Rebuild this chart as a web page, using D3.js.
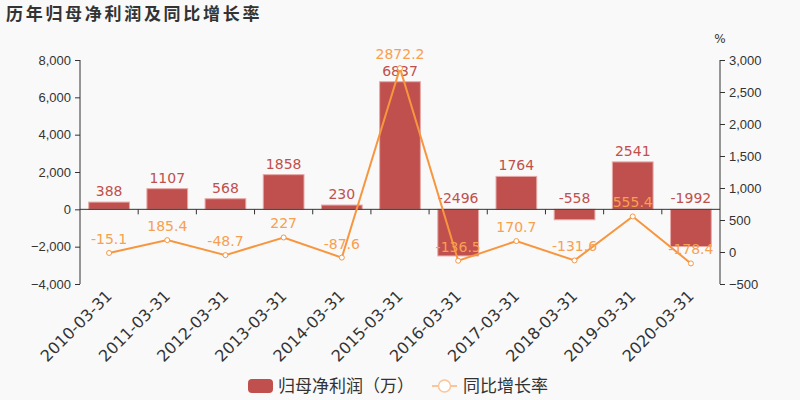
<!DOCTYPE html>
<html>
<head>
<meta charset="utf-8">
<script src="https://cdn.jsdelivr.net/npm/d3@7"></script>
<style>
body { margin: 0; background: #f9f9f9; }
svg { display: block; font-family: "DejaVu Sans", "Noto Sans CJK SC", sans-serif; }
</style>
</head>
<body>
<svg id="chart" width="800" height="400"></svg>
<script>
// data
var dates = ["2010-03-31","2011-03-31","2012-03-31","2013-03-31","2014-03-31","2015-03-31","2016-03-31","2017-03-31","2018-03-31","2019-03-31","2020-03-31"]
var profit = [388, 1107, 568, 1858, 230, 6837, -2496, 1764, -558, 2541, -1992]
var growth = [-15.1, 185.4, -48.7, 227, -87.6, 2872.2, -136.5, 170.7, -131.6, 555.4, -178.4]
var leftTicks = [-4000, -2000, 0, 2000, 4000, 6000, 8000]
var rightTicks = [-500, 0, 500, 1000, 1500, 2000, 2500, 3000]

var barColor = "#c0504d", lineColor = "#f7963f"
var gLeft = 80, gRight = 720, gTop = 60, gBottom = 284

var svg = d3.select("#chart")
svg.append("rect").attr("width", 800).attr("height", 400).attr("fill", "#f9f9f9")

svg.append("text").attr("x", 6).attr("y", 20)
  .attr("font-family", "Noto Sans CJK SC").attr("font-size", 17).attr("font-weight", "bold")
  .attr("fill", "#333").attr("letter-spacing", 2.7)
  .text("历年归母净利润及同比增长率")

var x = d3.scaleBand().domain(dates).range([gLeft, gRight]).paddingInner(0.3).paddingOuter(0.15)
var band = d3.scaleBand().domain(dates).range([gLeft, gRight])
var y = d3.scaleLinear().domain([-4000, 8000]).range([gBottom, gTop])
var y2 = d3.scaleLinear().domain([-500, 3000]).range([gBottom, gTop])
var fmt = d3.format(",")

// left axis
var ga = svg.append("g").attr("transform", "translate(" + gLeft + ",0)")
  .call(d3.axisLeft(y).tickValues(leftTicks).tickFormat(fmt).tickSize(5).tickPadding(4))
ga.select(".domain").attr("stroke", "#333").attr("d", "M0," + gTop + "V" + gBottom)
ga.selectAll("line").attr("stroke", "#333")
ga.selectAll("text").attr("fill", "#333").attr("font-size", 13)

// right axis
var gr = svg.append("g").attr("transform", "translate(" + gRight + ",0)")
  .call(d3.axisRight(y2).tickValues(rightTicks).tickFormat(fmt).tickSize(5).tickPadding(4))
gr.select(".domain").attr("stroke", "#333").attr("d", "M0," + gTop + "V" + gBottom)
gr.selectAll("line").attr("stroke", "#333")
gr.selectAll("text").attr("fill", "#333").attr("font-size", 13)
svg.append("text").attr("x", 720).attr("y", 43).attr("text-anchor", "middle")
  .attr("font-size", 12).attr("fill", "#333").text("%")

// bars
svg.append("g").selectAll("rect").data(profit).join("rect")
  .attr("x", function(d, i) { return x(dates[i]) })
  .attr("width", x.bandwidth())
  .attr("y", function(d) { return Math.min(y(d), y(0)) })
  .attr("height", function(d) { return Math.abs(y(d) - y(0)) })
  .attr("fill", barColor).attr("stroke", "#e6a9a7").attr("stroke-width", 1)

// category axis on zero line
var gx = svg.append("g")
gx.append("line").attr("x1", gLeft).attr("x2", gRight).attr("y1", y(0)).attr("y2", y(0))
  .attr("stroke", "#333")
gx.selectAll(".tk").data(dates.slice(1)).join("line").attr("class", "tk")
  .attr("x1", function(d) { return band(d) }).attr("x2", function(d) { return band(d) })
  .attr("y1", y(0)).attr("y2", y(0) + 5).attr("stroke", "#333")
gx.selectAll(".lb").data(dates).join("text").attr("class", "lb")
  .attr("transform", function(d) { return "translate(" + (band(d) + band.bandwidth() / 2 + 0) + "," + (gBottom + 9) + ") rotate(-45)" })
  .attr("text-anchor", "end").attr("dy", "0.35em")
  .attr("font-size", 16).attr("fill", "#333").text(function(d) { return d })

// bar labels
svg.append("g").selectAll("text").data(profit).join("text")
  .attr("x", function(d, i) { return x(dates[i]) + x.bandwidth() / 2 })
  .attr("y", function(d) { return Math.min(y(d), y(0)) - 6 })
  .attr("text-anchor", "middle").attr("font-size", 14).attr("fill", barColor)
  .text(function(d) { return d })

// growth line
var cx = function(d, i) { return band(dates[i]) + band.bandwidth() / 2 }
var line = d3.line().x(cx).y(function(d) { return y2(d) })
svg.append("path").attr("d", line(growth)).attr("fill", "none")
  .attr("stroke", lineColor).attr("stroke-width", 2)
svg.append("g").selectAll("circle").data(growth).join("circle")
  .attr("cx", cx).attr("cy", function(d) { return y2(d) }).attr("r", 2.5)
  .attr("fill", "#fff").attr("stroke", lineColor).attr("stroke-width", 1)
svg.append("g").selectAll("text").data(growth).join("text")
  .attr("x", cx).attr("y", function(d) { return y2(d) - 9 })
  .attr("text-anchor", "middle").attr("font-size", 14).attr("fill", "#f7a04f")
  .text(function(d) { return d })

// legend
var lg = svg.append("g").attr("font-family", "Noto Sans CJK SC").attr("font-size", 17).attr("fill", "#333")
lg.append("rect").attr("x", 248).attr("y", 379).attr("width", 25).attr("height", 14).attr("rx", 4)
  .attr("fill", barColor)
lg.append("text").attr("x", 278).attr("y", 392).text("归母净利润（万）")
lg.append("line").attr("x1", 432).attr("x2", 457).attr("y1", 386).attr("y2", 386)
  .attr("stroke", "#fac59a").attr("stroke-width", 2)
lg.append("circle").attr("cx", 444.5).attr("cy", 386).attr("r", 6)
  .attr("fill", "#fff").attr("stroke", "#fac59a").attr("stroke-width", 1.5)
lg.append("text").attr("x", 463).attr("y", 392).text("同比增长率")
</script>
</body>
</html>
